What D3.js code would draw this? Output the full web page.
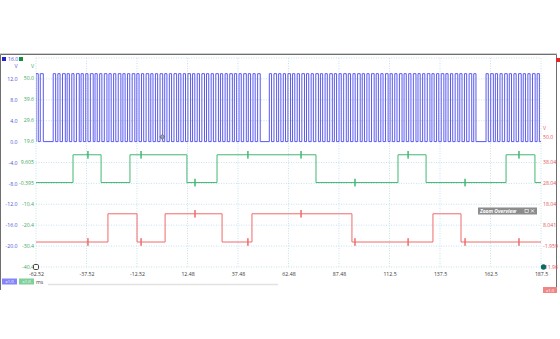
<!DOCTYPE html>
<html><head><meta charset="utf-8">
<script src="https://cdn.jsdelivr.net/npm/d3@7"></script>
<style>
html,body{margin:0;padding:0;background:#fff;}
svg{display:block;font-family:"Open Sans","Noto Sans",sans-serif;}
</style></head><body>
<svg id="c" width="560" height="339"></svg>
<script>
// ---- time axis (ms) ----
const timeTicks  = [-62.52, -37.52, -12.52, 12.48, 37.48, 62.48, 87.48, 112.5, 137.5, 162.5, 187.5];
const timeLabels = ["-62.52", "-37.52", "-12.52", "12.48", "37.48", "62.48", "87.48", "112.5", "137.5", "162.5", "187.5"];
const timeRange  = [-62.52, 187.5];

// ---- channel A (blue, V) ----
const aRange  = [-24, 16];
const aTicks  = [12, 8, 4, 0, -4, -8, -12, -16, -20];
const aLabels = ["12.0", "8.0", "4.0", "0.0", "-4.0", "-8.0", "-12.0", "-16.0", "-20.0"];
const gridLevels = [16, 12, 8, 4, 0, -4, -8, -12, -16, -20, -24];

// ---- channel B (green, V) ----
const bRange  = [-40.4, 59.6];
const bTicks  = [50.0, 39.6, 29.6, 19.6, 9.605, -0.395, -10.4, -20.4, -30.4, -40.4];
const bLabels = ["50.0", "39.6", "29.6", "19.6", "9.605", "-0.395", "-10.4", "-20.4", "-30.4", "-40.4"];

// ---- channel C (red, V) ----
const cRange  = [-11.96, 88.04];
const cTicks  = [50.0, 38.04, 28.04, 18.04, 8.041, -1.959, -11.96];
const cLabels = ["50.0", "38.04", "28.04", "18.04", "8.041", "-1.959", "-11.96"];

// ---- signal levels (V) ----
const aLow = 0, aHigh = 13.0;
const bLow = 0, bHigh = 13.3;
const cLow = 0, cHigh = 13.5;
const spikeAmp = 1.8;

// channel A: high intervals [rise, fall] in ms
const aPulses = [
  [-62.52,-61.4],[-60.4,-58.9],
  [-54.0,-52.8],[-51.7,-50.6],[-49.4,-48.0],[-47.1,-46.0],[-44.8,-43.7],[-42.5,-41.1],[-40.2,-39.1],[-37.9,-36.8],[-35.6,-34.2],[-33.3,-32.2],
  [-31.0,-29.9],[-28.7,-27.4],[-26.4,-25.3],[-24.1,-23.0],[-21.8,-20.5],[-19.5,-18.4],[-17.2,-16.1],[-14.9,-13.6],[-12.6,-11.5],[-10.3,-9.2],
  [-8.0,-6.7],[-5.7,-4.6],[-3.4,-2.3],[-1.1,0.2],[1.2,2.3],[3.5,4.6],[5.8,7.1],[8.1,9.2],[10.4,11.5],[12.7,14.0],
  [15.0,16.1],[17.3,18.4],[19.6,20.9],[21.9,23.0],[24.2,25.3],[26.5,27.8],[28.8,29.9],[31.1,32.2],[33.4,34.7],[35.7,36.8],
  [38.0,39.1],[40.3,41.6],[42.6,43.7],[44.9,46.0],[47.2,48.5],
  [53.0,54.1],[55.3,56.6],[57.6,58.7],[59.9,61.0],[62.2,63.5],[64.5,65.6],[66.8,67.9],[69.1,70.4],[71.4,72.5],[73.7,74.8],
  [76.0,77.3],[78.3,79.4],[80.6,81.7],[82.9,84.2],[85.2,86.3],[87.5,88.6],[89.8,91.1],[92.1,93.2],[94.4,95.5],[96.7,98.0],
  [99.0,100.1],[101.3,102.4],[103.6,104.9],[105.9,107.0],[108.2,109.3],[110.5,111.8],[112.8,113.9],[115.1,116.2],[117.4,118.7],[119.7,120.8],
  [122.0,123.1],[124.3,125.6],[126.6,127.7],[128.9,130.0],[131.2,132.5],[133.5,134.6],[135.8,136.9],[138.1,139.4],[140.4,141.5],[142.7,143.8],
  [145.0,146.3],[147.3,148.4],[149.6,150.7],[151.9,153.2],[154.2,155.3],
  [160.3,161.4],[162.6,163.9],[164.9,166.0],[167.2,168.3],[169.5,170.8],[171.8,172.9],[174.1,175.2],[176.4,177.7],[178.7,179.8],[181.0,182.1],
  [183.3,184.6],[185.6,186.7]
];

// channel B / C: high intervals [rise, fall] in ms
const bPulses = [[-44.2,-30.3],[-16.0,12.2],[27.1,76.1],[116.7,130.6],[170.2,184.5]];
const cPulses = [[-26.9,-12.5],[1.4,29.6],[44.4,93.9],[134.0,147.9]];
// short interference spikes seen on B and C (ms)
const spikeTimes = [-36.8, -10.5, 16.2, 42.4, 68.7, 95.4, 121.7, 149.9, 176.6];

// trigger point (ms, V on channel A)
const trigger = {t: 0, v: 0.9};

// ---------------------------------------------------------------
const svg = d3.select("#c");
const x  = d3.scaleLinear().domain(timeRange).range([36, 541]);
const yA = d3.scaleLinear().domain(aRange).range([267, 58]);
const yB = d3.scaleLinear().domain(bRange).range([267, 58]);
const yC = d3.scaleLinear().domain(cRange).range([267, 58]);

const blueTxt = "#5050d8", greenTxt = "#3aa862", redTxt = "#e35858";
const FS = 5.2;

// window frame
svg.append("line").attr("x1", 0).attr("x2", 557).attr("y1", 53.5).attr("y2", 53.5).attr("stroke", "#d0d0d0");
svg.append("path").attr("d", "M0.5,290V54.5H556.5V290").attr("fill", "none").attr("stroke", "#6f6f6f");

// grid
const grid = svg.append("g").attr("stroke", "#b9dbea").attr("stroke-dasharray", "1,1.5").attr("stroke-width", 0.8);
grid.selectAll("line.v").data(timeTicks).join("line").attr("class", "v")
  .attr("x1", d => x(d)).attr("x2", d => x(d)).attr("y1", yA(aRange[1])).attr("y2", yA(aRange[0]));
grid.selectAll("line.h").data(gridLevels).join("line").attr("class", "h")
  .attr("x1", x(timeRange[0])).attr("x2", x(timeRange[1])).attr("y1", d => yA(d)).attr("y2", d => yA(d));

// axes
function styleAxis(g, color) {
  g.select(".domain").remove();
  g.attr("font-size", null).attr("font-family", null);
  g.selectAll("text").attr("fill", color).style("font-size", FS + "px");
}
svg.append("g").attr("transform", "translate(17.5,0)")
  .call(d3.axisLeft(yA).tickValues(aTicks).tickFormat((d, i) => aLabels[i]).tickSize(0).tickPadding(0))
  .call(g => styleAxis(g, blueTxt));
svg.append("g").attr("transform", "translate(34,-0.5)")
  .call(d3.axisLeft(yB).tickValues(bTicks).tickFormat((d, i) => bLabels[i]).tickSize(0).tickPadding(0))
  .call(g => styleAxis(g, greenTxt));
svg.append("g").attr("transform", "translate(543,-0.5)")
  .call(d3.axisRight(yC).tickValues(cTicks).tickFormat((d, i) => cLabels[i]).tickSize(0).tickPadding(0))
  .call(g => styleAxis(g, redTxt));
svg.append("g").attr("transform", "translate(0,272.5)")
  .call(d3.axisBottom(x).tickValues(timeTicks).tickFormat((d, i) => timeLabels[i]).tickSize(0).tickPadding(0))
  .call(g => styleAxis(g, "#3a3a3a"));

// unit titles
svg.append("text").attr("x", 17.5).attr("y", 68).attr("text-anchor", "end").attr("fill", blueTxt).style("font-size", FS + "px").text("V");
svg.append("text").attr("x", 34).attr("y", 68).attr("text-anchor", "end").attr("fill", greenTxt).style("font-size", FS + "px").text("V");
svg.append("text").attr("x", 543).attr("y", 130).attr("fill", redTxt).style("font-size", FS + "px").text("V");

// channel swatches
svg.append("rect").attr("x", 2).attr("y", 57).attr("width", 4).attr("height", 4).attr("fill", "#2424d0");
svg.append("text").attr("x", 8).attr("y", 61).attr("fill", blueTxt).style("font-size", FS + "px").text("16.0");
svg.append("rect").attr("x", 19).attr("y", 57).attr("width", 4).attr("height", 4).attr("fill", "#168c3c");
svg.append("rect").attr("x", 556).attr("y", 58).attr("width", 4).attr("height", 4).attr("fill", "#e02828");

// traces
function stepPoints(highs, lo, hi, spikes, amp) {
  const ev = [];
  highs.forEach(([r, f]) => { ev.push({t: r, k: 1}); ev.push({t: f, k: -1}); });
  spikes.forEach(t => ev.push({t, k: 0}));
  ev.sort((a, b) => a.t - b.t);
  let v = lo;
  const pts = [[timeRange[0], v]];
  ev.forEach(e => {
    if (e.k === 1) { pts.push([e.t, v]); v = hi; pts.push([e.t, v]); }
    else if (e.k === -1) { pts.push([e.t, v]); v = lo; pts.push([e.t, v]); }
    else { pts.push([e.t, v], [e.t, v + amp], [e.t, v - amp], [e.t, v]); }
  });
  pts.push([timeRange[1], v]);
  return pts;
}
svg.append("clipPath").attr("id", "plot").append("rect")
  .attr("x", x(timeRange[0])).attr("y", yA(aRange[1]))
  .attr("width", x(timeRange[1]) - x(timeRange[0]) + 1).attr("height", yA(aRange[0]) - yA(aRange[1]));
const traces = svg.append("g").attr("clip-path", "url(#plot)").attr("fill", "none").attr("stroke-width", 1);

traces.append("path")
  .attr("d", d3.line().x(d => x(d[0])).y(d => yB(d[1]))(stepPoints(bPulses, bLow, bHigh, spikeTimes, spikeAmp)))
  .attr("stroke", "#42b873");
traces.append("path")
  .attr("d", d3.line().x(d => x(d[0])).y(d => yC(d[1]))(stepPoints(cPulses, cLow, cHigh, spikeTimes, spikeAmp)))
  .attr("stroke", "#f06a6a");
traces.append("path")
  .attr("d", d3.line().x(d => x(d[0])).y(d => yA(d[1]))(stepPoints(aPulses, aLow, aHigh, [], 0)))
  .attr("stroke", "#5a5af4");

// trigger marker
const tx = x(trigger.t), ty = yA(trigger.v);
svg.append("path").attr("d", `M${tx},${ty - 2.5}L${tx + 2.5},${ty}L${tx},${ty + 2.5}L${tx - 2.5},${ty}Z`)
  .attr("fill", "#9a9ab0").attr("stroke", "#55557a").attr("stroke-width", 0.7);

// ruler handles
svg.append("rect").attr("x", x(timeRange[0]) - 2.5).attr("y", yA(aRange[0]) - 2.5).attr("width", 5).attr("height", 5).attr("rx", 1.2)
  .attr("fill", "#fff").attr("stroke", "#333").attr("stroke-width", 0.9);
svg.append("circle").attr("cx", x(timeRange[1]) + 2.5).attr("cy", yA(aRange[0])).attr("r", 2.7).attr("fill", "#0d6b66");

// zoom overview tab
const zo = svg.append("g").attr("transform", "translate(478,207.5)");
zo.append("rect").attr("width", 59).attr("height", 7).attr("fill", "#8c8c8c");
zo.append("text").attr("x", 2).attr("y", 5.4).attr("fill", "#fff").style("font-size", "5px")
  .style("font-style", "italic").style("font-weight", "bold").text("Zoom Overview");
zo.append("rect").attr("x", 47).attr("y", 1.8).attr("width", 3.2).attr("height", 3.2).attr("fill", "none").attr("stroke", "#fff").attr("stroke-width", 0.6);
zo.append("path").attr("d", "M53,1.8L56,5M56,1.8L53,5").attr("stroke", "#fff").attr("stroke-width", 0.8);

// footer: channel tags, unit, scroll bar
const tag = (gx, gy, w, fill) => {
  const g = svg.append("g").attr("transform", `translate(${gx},${gy})`);
  g.append("rect").attr("width", w).attr("height", 6).attr("fill", fill);
  g.append("text").attr("x", w / 2).attr("y", 4.6).attr("text-anchor", "middle").attr("fill", "#fff")
    .style("font-size", "4.2px").text("x1.0");
};
tag(2, 278.5, 15, "#8585fb");
tag(19, 278.5, 15, "#7fd09c");
tag(543, 287, 14, "#f08585");
svg.append("text").attr("x", 36).attr("y", 283.5).attr("fill", "#444").style("font-size", FS + "px").text("ms");
svg.append("line").attr("x1", 48).attr("x2", 278).attr("y1", 284.5).attr("y2", 284.5).attr("stroke", "#e2e2e2").attr("stroke-width", 1.5);
</script>
</body></html>
